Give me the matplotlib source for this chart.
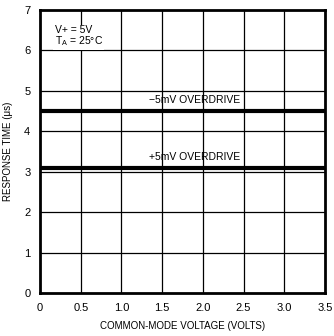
import matplotlib
matplotlib.use("Agg")
import matplotlib.pyplot as plt
import numpy as np

# data
vcm = [0.0, 3.5]
t_neg_overdrive = [4.5, 4.5]   # -5mV overdrive, us
t_pos_overdrive = [3.1, 3.1]   # +5mV overdrive, us

x_ticks = [0, 0.5, 1.0, 1.5, 2.0, 2.5, 3.0, 3.5]
x_tick_labels = ["0", "0.5", "1.0", "1.5", "2.0", "2.5", "3.0", "3.5"]
y_ticks = [0, 1, 2, 3, 4, 5, 6, 7]

plt.rcParams["font.family"] = ["Liberation Sans", "DejaVu Sans"]

fig = plt.figure(figsize=(3.34, 3.36), dpi=100)
ax = fig.add_axes([0.12, 0.128, 0.853, 0.842])

ax.set_xlim(0, 3.5)
ax.set_ylim(0, 7)

for x in x_ticks[1:-1]:
    ax.axvline(x, color="black", linewidth=0.9, zorder=1)
for y in y_ticks[1:-1]:
    ax.axhline(y, color="black", linewidth=0.9, zorder=1)

ax.plot(vcm, t_neg_overdrive, color="black", linewidth=3.0, solid_capstyle="butt", zorder=3)
ax.plot(vcm, t_pos_overdrive, color="black", linewidth=3.0, solid_capstyle="butt", zorder=3)

ax.text(1.9, t_neg_overdrive[0] + 0.14, "\u22125mV OVERDRIVE", ha="center", va="bottom",
        fontsize=7.5, zorder=4)
ax.text(1.9, t_pos_overdrive[0] + 0.14, "+5mV OVERDRIVE", ha="center", va="bottom",
        fontsize=7.5, zorder=4)

# white box so the 6 gridline does not run through the note, as in the reference
ax.text(0.18, 6.05, "V+ = 5V\nT$_\\mathregular{A}$ = 25\u00b0C", ha="left", va="bottom",
        fontsize=7.5, linespacing=1.0, zorder=4,
        bbox=dict(facecolor="white", edgecolor="none", pad=1.0))

for s in ax.spines.values():
    s.set_linewidth(2.0)

ax.set_xticks(x_ticks)
ax.set_xticklabels(x_tick_labels)
ax.set_yticks(y_ticks)
ax.tick_params(length=0, labelsize=8, pad=7)

ax.set_xlabel("COMMON-MODE VOLTAGE (VOLTS)", fontsize=7, labelpad=6)
ax.set_ylabel("RESPONSE TIME (\u03bcs)", fontsize=7, labelpad=8)

fig.savefig("out.png", dpi=100)
